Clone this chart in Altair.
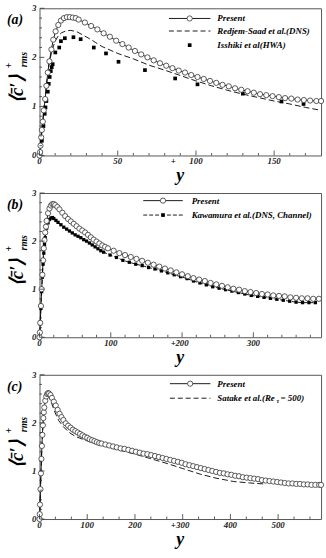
import altair as alt
import pandas as pd

FONT = "Liberation Serif"
W = 285

# ---------------- panel (a) data ----------------
a_present_x = [0, 0.4, 0.63, 1.05, 1.47, 2.1, 2.7, 3.6, 4.4, 5.3, 6.3, 7.6, 8.8, 10.3, 12.0, 13.7, 15.6,
               17.5, 19.4, 21.3, 23.2, 25, 29, 33, 37, 41, 45, 49, 53, 57, 61, 65, 69, 73, 77, 81, 85, 89,
               93, 97, 101, 105, 109, 113, 117, 121, 125, 129, 133, 137, 141, 145, 149, 153, 157, 161,
               165, 169, 173, 177, 180]
a_present_y = [0, 0.07, 0.2, 0.37, 0.52, 0.69, 0.92, 1.15, 1.42, 1.69, 1.92, 2.16, 2.36, 2.53, 2.66, 2.75,
               2.80, 2.82, 2.82, 2.81, 2.80, 2.77, 2.71, 2.64, 2.57, 2.49, 2.42, 2.34, 2.27, 2.20, 2.13,
               2.06, 2.00, 1.94, 1.88, 1.83, 1.78, 1.73, 1.69, 1.64, 1.60, 1.56, 1.52, 1.48, 1.44, 1.41,
               1.37, 1.34, 1.31, 1.28, 1.25, 1.23, 1.21, 1.19, 1.17, 1.16, 1.14, 1.13, 1.12, 1.11, 1.11]
a_redjem_x = [0, 1, 2, 3, 4, 5, 6, 7, 8, 10, 12, 14, 17, 20, 24, 28, 32, 36, 40, 50, 60, 70, 80, 90, 100,
              110, 120, 130, 140, 150, 160, 170, 180]
a_redjem_y = [0, 0.3, 0.65, 1.0, 1.3, 1.6, 1.85, 2.0, 2.15, 2.33, 2.44, 2.50, 2.54, 2.55, 2.52, 2.45,
              2.38, 2.30, 2.22, 2.08, 1.97, 1.84, 1.74, 1.63, 1.52, 1.42, 1.33, 1.25, 1.18, 1.11, 1.05,
              0.98, 0.92]
a_isshiki_x = [0.5, 1.5, 2.5, 3.3, 3.8, 4.4, 5.3, 5.9, 6.5, 7.2, 7.8, 8.4, 10.1, 12.6, 13.7, 16.2, 21.7,
               26.3, 34.7, 42.5, 50.5, 67.4, 86.7, 101, 130, 154.7, 168.8]
a_isshiki_y = [0.05, 0.3, 0.6, 0.85, 0.98, 1.11, 1.30, 1.46, 1.60, 1.72, 1.80, 1.86, 2.10, 2.20, 2.33,
               2.39, 2.41, 2.37, 2.20, 2.08, 1.91, 1.74, 1.57, 1.45, 1.26, 1.10, 1.05]

# ---------------- panel (b) data ----------------
b_present_x = [0, 0.5, 1, 2, 3, 4, 5, 6, 7, 8, 9, 10, 12, 14, 16, 18, 20, 22, 25, 28, 32, 36, 40, 44, 48,
               52, 56, 60, 64, 68, 72, 76, 80, 84, 88, 92, 96, 104, 112, 120, 128, 136, 144, 152, 160,
               168, 176, 184, 192, 200, 208, 216, 224, 232, 240, 248, 256, 264, 272, 280, 288, 296, 304,
               312, 320, 328, 336, 344, 352, 360, 368, 376, 384, 392]
b_present_y = [0, 0.1, 0.3, 0.65, 1.0, 1.3, 1.6, 1.85, 2.02, 2.18, 2.3, 2.42, 2.58, 2.68, 2.74, 2.77, 2.77,
               2.75, 2.71, 2.66, 2.59, 2.52, 2.46, 2.41, 2.36, 2.31, 2.26, 2.22, 2.18, 2.13, 2.08, 2.03,
               1.99, 1.95, 1.91, 1.88, 1.85, 1.80, 1.75, 1.71, 1.67, 1.63, 1.59, 1.55, 1.51, 1.47, 1.43,
               1.39, 1.35, 1.31, 1.27, 1.23, 1.20, 1.17, 1.13, 1.10, 1.07, 1.04, 1.01, 0.99, 0.96, 0.94,
               0.92, 0.90, 0.89, 0.87, 0.86, 0.85, 0.83, 0.82, 0.81, 0.81, 0.80, 0.80]
b_kawa_x = [0, 0.5, 1, 2, 3, 4, 5, 6, 7, 8, 9, 10, 12, 14, 16, 18, 20, 23, 26, 30, 34, 38, 42, 46, 50, 54,
            58, 62, 66, 70, 74, 78, 82, 86, 90, 99, 108, 117, 126, 135, 144, 153, 162, 171, 180, 189, 198,
            207, 216, 225, 234, 243, 252, 261, 270, 279, 288, 297, 306, 315, 324, 333, 342, 351, 360,
            369, 378, 387]
b_kawa_y = [0, 0.1, 0.28, 0.6, 0.95, 1.25, 1.52, 1.75, 1.93, 2.07, 2.18, 2.27, 2.38, 2.45, 2.48, 2.49,
            2.47, 2.43, 2.39, 2.34, 2.29, 2.25, 2.21, 2.17, 2.13, 2.10, 2.07, 2.03, 2.00, 1.96, 1.92, 1.88,
            1.84, 1.80, 1.77, 1.71, 1.66, 1.60, 1.56, 1.52, 1.49, 1.45, 1.42, 1.38, 1.34, 1.30, 1.26,
            1.22, 1.17, 1.13, 1.09, 1.05, 1.02, 0.99, 0.96, 0.93, 0.90, 0.87, 0.85, 0.83, 0.81, 0.79,
            0.77, 0.75, 0.73, 0.72, 0.72, 0.72]

# ---------------- panel (c) data ----------------
c_present_x = [0, 0.5, 1, 2, 3, 4, 5, 6, 7, 8, 9, 10, 12, 14, 16, 18, 20, 23, 26, 30, 34, 38, 42, 46, 50,
               55, 60, 65, 70, 75, 80, 85, 90, 95, 100, 105, 110, 115, 120, 125, 130, 138, 146, 154, 162,
               170, 178, 186, 194, 202, 210, 218, 226, 234, 242, 250, 258, 266, 274, 282, 290, 298, 306,
               314, 322, 330, 338, 346, 354, 362, 370, 378, 386, 394, 402, 410, 418, 426, 434, 442, 450,
               458, 466, 474, 482, 490, 498, 506, 514, 522, 530, 538, 546, 554, 562, 570, 578, 586, 590]
c_present_y = [0, 0.1, 0.3, 0.62, 0.95, 1.25, 1.52, 1.75, 1.95, 2.1, 2.22, 2.32, 2.46, 2.55, 2.6, 2.62,
               2.61, 2.58, 2.52, 2.44, 2.36, 2.27, 2.19, 2.12, 2.06, 1.99, 1.94, 1.90, 1.86, 1.83, 1.80,
               1.77, 1.74, 1.71, 1.69, 1.66, 1.64, 1.62, 1.60, 1.58, 1.57, 1.55, 1.53, 1.51, 1.49, 1.47,
               1.46, 1.44, 1.42, 1.40, 1.38, 1.36, 1.35, 1.33, 1.31, 1.29, 1.27, 1.25, 1.23, 1.21, 1.19,
               1.17, 1.14, 1.12, 1.10, 1.08, 1.06, 1.04, 1.02, 1.00, 0.98, 0.96, 0.95, 0.93, 0.92, 0.90,
               0.89, 0.87, 0.86, 0.85, 0.84, 0.83, 0.81, 0.80, 0.79, 0.78, 0.77, 0.76, 0.75, 0.74, 0.74,
               0.73, 0.73, 0.72, 0.72, 0.71, 0.71, 0.71, 0.71]
c_satake_x = [0, 2, 4, 6, 8, 10, 12, 14, 17, 20, 25, 30, 35, 40, 50, 62, 75, 90, 110, 131, 160, 200, 235,
              269, 300, 338, 370, 407, 440, 470]
c_satake_y = [0, 0.6, 1.22, 1.72, 2.08, 2.3, 2.45, 2.54, 2.58, 2.55, 2.42, 2.28, 2.16, 2.05, 1.92, 1.80,
              1.72, 1.66, 1.59, 1.53, 1.45, 1.35, 1.25, 1.15, 1.05, 0.93, 0.85, 0.78, 0.75, 0.73]

# ---------------- ticks ----------------
y_major = [0, 1, 2, 3]
y_minor = [0.2, 0.4, 0.6, 0.8, 1.2, 1.4, 1.6, 1.8, 2.2, 2.4, 2.6, 2.8]
a_major = [0, 50, 100, 150]
a_minor = [10, 20, 30, 40, 60, 70, 80, 90, 110, 120, 130, 140, 160, 170]
b_major = [0, 100, 200, 300]
b_minor = [20, 40, 60, 80, 120, 140, 160, 180, 220, 240, 260, 280, 320, 340, 360, 380]
c_major = [0, 100, 200, 300, 400, 500]
c_minor = [33.3, 66.7, 133.3, 166.7, 233.3, 266.7, 333.3, 366.7, 433.3, 466.7, 533.3, 566.7]

ONE = pd.DataFrame({"k": [0]})
YS = alt.Scale(domain=[0, 3], nice=False, zero=False)


def txt(text, x, y, size, align="left", angle=0, style="italic"):
    return alt.Chart(ONE).mark_text(
        text=text, font=FONT, fontSize=size, fontStyle=style, fontWeight="bold",
        align=align, baseline="middle", angle=angle, color="black"
    ).encode(x=alt.value(x), y=alt.value(y))


def df(x, y):
    return pd.DataFrame({"x": x, "y": y})


def panel(H, xmax, xmaj, xmin, present, others, legend_names, legend_x, legend_rows, tag):
    SX = alt.Scale(domain=[0, xmax], nice=False, zero=False)
    xenc = lambda: alt.X("x:Q", scale=SX, axis=None)
    yenc = lambda: alt.Y("y:Q", scale=YS, axis=None)
    pdf = df(*present)
    layers = []
    for (ox, oy), kind in others:
        odf = df(ox, oy)
        if kind == "dash":
            layers.append(alt.Chart(odf).mark_line(color="black", strokeWidth=0.9, strokeDash=[6, 3])
                          .encode(x=xenc(), y=yenc()))
        elif kind == "square":
            layers.append(alt.Chart(odf).mark_square(color="black", size=14, opacity=1)
                          .encode(x=xenc(), y=yenc()))
        elif kind == "dashsq":
            layers.append(alt.Chart(odf).mark_line(color="black", strokeWidth=0.9, strokeDash=[4, 2])
                          .encode(x=xenc(), y=yenc()))
            layers.append(alt.Chart(odf).mark_square(color="black", size=11, opacity=1)
                          .encode(x=xenc(), y=yenc()))
    layers.append(alt.Chart(pdf).mark_line(color="black", strokeWidth=0.9).encode(x=xenc(), y=yenc()))
    layers.append(alt.Chart(pdf).mark_point(shape="circle", fill="white", fillOpacity=1, stroke="#333",
                                            strokeWidth=0.8, size=28, opacity=1)
                  .encode(x=xenc(), y=yenc()))
    # ticks
    tk = dict(color="#333", strokeWidth=0.8)
    layers.append(alt.Chart(pd.DataFrame({"x": xmaj})).mark_rule(**tk)
                  .encode(x=xenc(), y=alt.value(H - 5), y2=alt.value(H)))
    layers.append(alt.Chart(pd.DataFrame({"x": xmin})).mark_rule(**tk)
                  .encode(x=xenc(), y=alt.value(H - 2.5), y2=alt.value(H)))
    layers.append(alt.Chart(pd.DataFrame({"y": y_major})).mark_rule(**tk)
                  .encode(y=yenc(), x=alt.value(0), x2=alt.value(5)))
    layers.append(alt.Chart(pd.DataFrame({"y": y_minor})).mark_rule(**tk)
                  .encode(y=yenc(), x=alt.value(0), x2=alt.value(2.5)))
    # tick labels
    lab = dict(font=FONT, fontSize=9, fontStyle="italic", fontWeight="bold", color="#222")
    layers.append(alt.Chart(pd.DataFrame({"x": xmaj, "t": [str(v) for v in xmaj]}))
                  .mark_text(align="center", baseline="top", **lab)
                  .encode(x=xenc(), y=alt.value(H + 2), text="t:N"))
    layers.append(alt.Chart(pd.DataFrame({"y": y_major, "t": [str(v) for v in y_major]}))
                  .mark_text(align="right", baseline="middle", **lab)
                  .encode(y=yenc(), x=alt.value(-3), text="t:N"))
    # legend
    lx1, lx2, tx = legend_x
    lc = (lx1 + lx2) / 2
    for i, (name, kind) in enumerate(legend_names):
        yy = legend_rows[i]
        if kind in ("line", "dash", "dashsq"):
            rm = dict(color="black", strokeWidth=0.9)
            if kind != "line":
                rm["strokeDash"] = [5, 3] if kind == "dash" else [4, 2]
            layers.append(alt.Chart(ONE).mark_rule(**rm).encode(
                x=alt.value(lx1), x2=alt.value(lx2), y=alt.value(yy)))
        if kind == "line":
            layers.append(alt.Chart(ONE).mark_point(shape="circle", fill="white", fillOpacity=1,
                                                    stroke="#333", strokeWidth=0.8, size=28, opacity=1)
                          .encode(x=alt.value(lc), y=alt.value(yy)))
        if kind in ("square", "dashsq"):
            layers.append(alt.Chart(ONE).mark_square(color="black", size=14, opacity=1)
                          .encode(x=alt.value(lc), y=alt.value(yy)))
        if isinstance(name, tuple):
            n0, n1, n2, o1, o2 = name
            layers.append(txt(n0, tx, yy, 9))
            layers.append(txt(n1, tx + o1, yy + 3, 6))
            layers.append(txt(n2, tx + o2, yy, 9))
        else:
            layers.append(txt(name, tx, yy, 9))
    # panel tag, axis titles
    layers.append(txt(tag, -33, 12, 14))
    yc = H * 0.55
    layers.append(txt("\u27e8c\u0304\u2032\u27e9", -23, yc, 19, align="center", angle=270))
    layers.append(txt("+", -31, yc - 24, 10, align="center", angle=270, style="normal"))
    layers.append(txt("rms", -16, yc - 30, 10, align="center", angle=270))
    layers.append(txt("y", W / 2, H + 21, 18, align="center"))
    layers.append(txt("+", W / 2 - 7, H + 6, 9, align="center", style="normal"))
    return alt.layer(*layers).properties(width=W, height=H)


pa = panel(149, 180, a_major, a_minor, (a_present_x, a_present_y),
           [((a_redjem_x, a_redjem_y), "dash"), ((a_isshiki_x, a_isshiki_y), "square")],
           [("Present", "line"), ("Redjem-Saad et al.(DNS)", "dash"), ("Isshiki et al(HWA)", "square")],
           (131, 173, 180), [10.3, 23, 37.3], "(a)")

pb = panel(146, 395, b_major, b_minor, (b_present_x, b_present_y),
           [((b_kawa_x, b_kawa_y), "dashsq")],
           [("Present", "line"), ("Kawamura et al.(DNS, Channel)", "dashsq")],
           (105, 145, 154), [7.7, 22.3], "(b)")

pc = panel(146, 590, c_major, c_minor, (c_present_x, c_present_y),
           [((c_satake_x, c_satake_y), "dash")],
           [("Present", "line"), (("Satake et al.(Re", "\u03c4", "= 500)", 60, 64), "dash")],
           (132, 173, 180), [9, 23.7], "(c)")

chart = alt.vconcat(pa, pb, pc, spacing=2).properties(
    padding={"left": 3, "top": 0, "right": 0, "bottom": 0}, background="white"
).configure_view(stroke="#555", strokeWidth=1)

chart.save("out.html", embed_options={"renderer": "svg", "actions": False})
